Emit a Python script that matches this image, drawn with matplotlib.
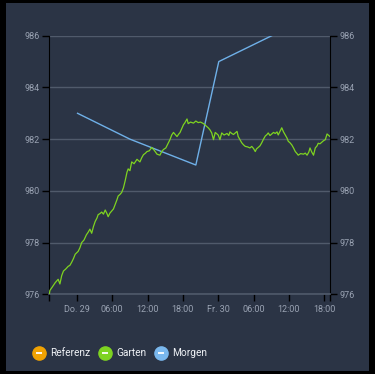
import matplotlib
matplotlib.use("Agg")
import matplotlib.pyplot as plt
from matplotlib.lines import Line2D
from matplotlib.patches import Rectangle

# hours relative to Do. 29 00:00
garten_t = [-4.7, -4.6, -4.2, -3.7, -3.2, -2.9, -2.6, -2.3, -1.9, -1.5,
            -1.2, -0.9, -0.6, -0.3, 0.2, 0.5, 0.8, 1.2, 1.6, 1.9,
            2.2, 2.5, 2.8, 3.1, 3.4, 3.6, 3.9, 4.2, 4.5, 4.8,
            5.1, 5.3, 5.6, 5.9, 6.2, 6.5, 6.8, 7.0, 7.3, 7.6,
            7.9, 8.2, 8.5, 8.7, 9.0, 9.3, 9.7, 10.2, 10.7, 11.0,
            11.3, 11.6, 11.9, 12.3, 12.7, 13.1, 13.6, 14.1, 14.4, 14.7,
            15.1, 15.5, 15.8, 16.1, 16.4, 16.7, 17.0, 17.3, 17.5, 17.8,
            18.1, 18.3, 18.7, 18.9, 19.3, 19.8, 20.2, 20.6, 21.0, 21.5,
            21.9, 22.3, 22.6, 22.9, 23.2, 23.5, 23.8, 24.0, 24.3, 24.6,
            25.0, 25.5, 25.8, 26.0, 26.3, 26.6, 26.9, 27.2, 27.4, 27.7,
            28.0, 28.3, 28.6, 29.0, 29.4, 29.7, 30.0, 30.3, 30.5, 30.8,
            31.1, 31.4, 31.7, 32.0, 32.3, 32.5, 32.8, 33.1, 33.4, 33.7,
            34.0, 34.2, 34.5, 34.8, 35.1, 35.4, 35.7, 35.9, 36.2, 36.5,
            36.8, 37.1, 37.4, 37.6, 38.0, 38.5, 38.8, 39.1, 39.4, 39.6,
            39.9, 40.2, 40.5, 40.8, 41.0, 41.3, 41.6, 41.9, 42.2, 42.5,
            42.8, 43.0]
garten_hpa = [976.00, 976.15, 976.28, 976.45, 976.58, 976.40, 976.72, 976.90, 976.98, 977.08,
              977.12, 977.24, 977.38, 977.55, 977.66, 977.80, 978.00, 978.10, 978.30, 978.40,
              978.52, 978.36, 978.62, 978.82, 978.95, 979.08, 979.12, 979.18, 979.10, 979.26,
              979.12, 979.00, 979.14, 979.22, 979.30, 979.48, 979.66, 979.80, 979.86, 979.94,
              980.12, 980.40, 980.72, 980.85, 980.78, 981.12, 981.05, 981.22, 981.12, 981.28,
              981.40, 981.45, 981.52, 981.55, 981.68, 981.58, 981.42, 981.38, 981.52, 981.60,
              981.66, 981.84, 981.98, 982.16, 982.26, 982.18, 982.10, 982.20, 982.25, 982.40,
              982.56, 982.62, 982.78, 982.60, 982.66, 982.62, 982.70, 982.64, 982.66, 982.60,
              982.52, 982.44, 982.36, 982.24, 981.98, 982.26, 982.20, 982.16, 981.98, 982.24,
              982.16, 982.22, 982.14, 982.28, 982.22, 982.18, 982.24, 982.30, 982.10, 981.98,
              981.86, 981.78, 981.72, 981.70, 981.66, 981.72, 981.64, 981.52, 981.62, 981.68,
              981.74, 981.86, 982.00, 982.12, 982.18, 982.24, 982.14, 982.20, 982.26, 982.22,
              982.28, 982.16, 982.30, 982.44, 982.28, 982.16, 982.04, 981.92, 981.86, 981.78,
              981.66, 981.52, 981.44, 981.38, 981.44, 981.42, 981.46, 981.38, 981.50, 981.66,
              981.50, 981.38, 981.66, 981.74, 981.84, 981.82, 981.88, 981.94, 981.98, 982.20,
              982.14, 982.10]

morgen_t = [0.1, 9.0, 20.2, 24.1, 33.1]
morgen_hpa = [983.0, 982.0, 981.0, 985.0, 986.0]

xtick_pos = [0, 6, 12, 18, 24, 30, 36, 42]
xtick_labels = ["Do. 29", "06:00", "12:00", "18:00", "Fr. 30", "06:00", "12:00", "18:00"]
yticks = [976, 978, 980, 982, 984, 986]

legend_names = ["Referenz", "Garten", "Morgen"]
legend_colors = ["#f0a202", "#7ed321", "#7ab8ee"]

panel = "#2b3445"
grid_col = "#505a6b"
label_col = "#9aa3b3"

plt.rcParams["font.family"] = ["Roboto", "DejaVu Sans"]

fig = plt.figure(figsize=(3.75, 3.74), dpi=100, facecolor="black")
fig.add_artist(Rectangle((6 / 375, 3 / 374), 363 / 375, 368 / 374,
                         transform=fig.transFigure, facecolor=panel,
                         edgecolor="none", zorder=-5))

ax = fig.add_axes([0.1315, 0.2131, 0.7485, 0.6914])
ax.set_facecolor(panel)

ax.plot(morgen_t, morgen_hpa, color="#6fb0e8", linewidth=1.0, zorder=3)
ax.plot(garten_t, garten_hpa, color="#7ed321", linewidth=0.9, zorder=4)

ax.set_xlim(-4.7, 43.0)
ax.set_ylim(976, 986)
ax.set_xticks(xtick_pos)
ax.set_xticklabels(xtick_labels)
ax.set_xticks([-4.7, 43.0], minor=True)
ax.set_yticks(yticks)
ax.set_yticklabels([str(v) for v in yticks])
ax.grid(axis="y", color=grid_col, linewidth=1.0)
ax.set_axisbelow(True)

ax.spines["top"].set_visible(False)
ax.spines["left"].set_color("black")
ax.spines["right"].set_color("black")
ax.spines["bottom"].set_color(grid_col)
ax.spines["bottom"].set_linewidth(1.2)

ax.tick_params(axis="x", which="both", colors="black", length=5, width=1, pad=3,
               labelcolor=label_col, labelsize=6.5)
ax.tick_params(axis="y", colors="black", length=5, width=1, pad=2,
               labelcolor=label_col, labelsize=6.5,
               left=True, right=True, labelleft=True, labelright=True)

# legend drawn by hand
circle_x = [39, 105, 161]
text_x = [50, 116, 172.5]
ly = 1 - 353 / 374
for name, col, cx, tx in zip(legend_names, legend_colors, circle_x, text_x):
    fig.add_artist(Line2D([cx / 375], [ly], marker="o", markersize=9.5,
                          markerfacecolor=col, markeredgecolor=col,
                          transform=fig.transFigure))
    fig.add_artist(Line2D([cx / 375], [ly], marker="_", markersize=5,
                          markeredgewidth=1.3, markeredgecolor="white",
                          transform=fig.transFigure))
    fig.text(tx / 375, ly, name, color="#eef1f5", fontsize=7.3,
             ha="left", va="center")

fig.savefig("out.png", dpi=100, facecolor="black")
